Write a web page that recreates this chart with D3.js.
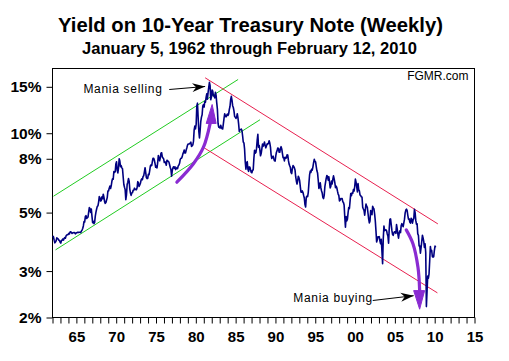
<!DOCTYPE html>
<html><head><meta charset="utf-8">
<script src="https://cdn.jsdelivr.net/npm/d3@7"></script>
<style>
body{margin:0;background:#fff;}
svg{display:block;font-family:"Liberation Sans",Arial,Helvetica,sans-serif;}
</style></head><body>
<svg id="chart" width="509" height="361"></svg>
<script>
// ---------------- DATA ----------------
const title = "Yield on 10-Year Treasury Note (Weekly)";
const subtitle = "January 5, 1962 through February 12, 2010";
const sourceLabel = "FGMR.com";
const startYear = 1962;           // first month = January 1962
const monthlyYield = [
 4.08,4.04,3.93,3.84,3.87,3.91,4.01,3.98,3.98,3.93,3.92,3.86,
 3.83,3.92,3.93,3.97,3.93,3.99,4.02,4.00,4.08,4.11,4.12,4.13,
 4.17,4.15,4.22,4.23,4.20,4.17,4.19,4.19,4.20,4.19,4.15,4.18,
 4.19,4.21,4.21,4.20,4.21,4.21,4.20,4.25,4.29,4.35,4.45,4.62,
 4.61,4.83,4.87,4.75,4.78,4.81,5.02,5.22,5.18,5.01,5.16,4.84,
 4.58,4.63,4.54,4.59,4.85,5.02,5.16,5.28,5.30,5.48,5.75,5.70,
 5.53,5.56,5.74,5.64,5.87,5.72,5.50,5.42,5.46,5.58,5.70,6.03,
 6.04,6.19,6.30,6.17,6.32,6.57,6.72,6.69,7.16,7.10,7.14,7.65,
 7.79,7.24,7.07,7.39,8.00,7.84,7.46,7.53,7.39,7.33,6.84,6.39,
 6.24,6.11,5.60,5.83,6.39,6.52,6.73,6.58,6.14,5.93,5.81,5.93,
 5.95,6.08,6.07,6.19,6.13,6.11,6.11,6.21,6.55,6.48,6.28,6.36,
 6.46,6.64,6.71,6.67,6.85,6.90,7.13,7.40,7.09,6.79,6.73,6.74,
 6.99,6.96,7.21,7.51,7.58,7.54,7.81,8.04,8.04,7.90,7.68,7.43,
 7.50,7.39,7.73,8.23,8.06,7.86,8.06,8.40,8.43,8.14,8.05,8.00,
 7.74,7.79,7.73,7.56,7.90,7.86,7.83,7.77,7.59,7.41,7.29,6.87,
 7.21,7.39,7.46,7.37,7.46,7.28,7.33,7.40,7.34,7.52,7.58,7.69,
 7.96,8.03,8.04,8.15,8.35,8.46,8.64,8.41,8.42,8.64,8.81,9.01,
 9.10,9.10,9.12,9.18,9.25,8.91,8.95,9.03,9.33,10.30,10.65,10.39,
 10.80,12.70,13.00,11.47,10.18,9.60,10.25,11.10,11.51,11.75,12.68,12.84,
 12.57,13.19,13.12,13.68,14.10,13.47,14.28,14.94,15.60,15.15,13.39,13.72,
 14.59,14.43,13.86,13.87,13.62,14.30,13.95,13.06,12.34,10.91,10.55,10.54,
 10.46,10.72,10.51,10.40,10.38,10.85,11.38,11.85,11.65,11.54,11.69,11.83,
 11.67,11.84,12.32,12.63,13.41,13.80,13.36,12.72,12.52,12.16,11.57,11.50,
 11.38,11.51,11.86,11.43,10.85,10.16,10.31,10.33,10.37,10.24,9.78,9.26,
 9.19,8.70,7.78,7.30,7.71,7.80,7.30,7.17,7.45,7.43,7.25,7.11,
 7.08,7.25,7.25,8.02,8.61,8.40,8.45,8.76,9.42,9.90,8.86,8.99,
 8.67,8.21,8.37,8.72,9.09,8.92,9.06,9.26,8.98,8.80,8.96,9.11,
 9.09,9.17,9.36,9.18,8.86,8.28,8.02,8.11,8.19,8.01,7.87,7.84,
 8.21,8.47,8.59,8.79,8.76,8.48,8.47,8.75,8.89,8.72,8.39,8.08,
 8.09,7.85,8.11,8.04,8.07,8.28,8.27,7.90,7.65,7.53,7.42,7.09,
 7.03,7.34,7.54,7.48,7.39,7.26,6.84,6.59,6.42,6.59,6.87,6.77,
 6.60,6.26,5.98,5.97,6.04,5.96,5.81,5.68,5.36,5.25,5.72,5.77,
 5.75,5.97,6.48,6.97,7.18,7.10,7.30,7.24,7.46,7.74,7.96,7.81,
 7.78,7.47,7.20,7.06,6.63,6.17,6.28,6.49,6.20,6.04,5.93,5.71,
 5.65,5.81,6.27,6.51,6.74,6.91,6.87,6.64,6.83,6.53,6.20,6.30,
 6.58,6.42,6.69,6.89,6.71,6.49,6.22,6.30,6.21,6.03,5.88,5.81,
 5.54,5.57,5.65,5.64,5.65,5.50,5.46,5.34,4.81,4.40,4.83,4.65,
 4.72,5.00,5.23,5.18,5.54,5.90,5.79,5.94,5.92,6.11,6.03,6.28,
 6.70,6.52,6.26,5.99,6.44,6.10,6.05,5.83,5.80,5.74,5.72,5.24,
 5.16,5.10,4.89,5.14,5.39,5.28,5.24,4.97,4.73,4.57,4.65,5.09,
 5.04,4.91,5.28,5.21,5.16,4.93,4.65,4.26,3.87,3.94,4.05,4.03,
 4.05,3.90,3.81,3.96,3.57,3.20,3.98,4.45,4.27,4.29,4.30,4.27,
 4.15,4.08,3.83,4.35,4.72,4.73,4.50,4.28,4.13,4.10,4.19,4.23,
 4.22,4.17,4.50,4.34,4.14,4.00,4.18,4.26,4.20,4.46,4.54,4.47,
 4.42,4.57,4.72,4.99,5.11,5.15,5.09,4.88,4.72,4.73,4.60,4.56,
 4.76,4.72,4.56,4.69,4.75,5.15,5.00,4.67,4.52,4.53,4.15,4.10,
 3.74,3.74,3.51,3.68,3.88,4.10,4.01,3.89,3.69,3.81,3.53,2.20,
 2.52,2.87,2.82,2.93,3.29,3.72,3.56,3.59,3.40,3.39,3.40,3.59,
 3.73,3.69
];
const yTicks = [2, 3, 5, 8, 10, 15];
const yTickLabels = ["2%", "3%", "5%", "8%", "10%", "15%"];
const xMinorYears = d3.range(1962, 2016);
const xMajorYears = [1965,1970,1975,1980,1985,1990,1995,2000,2005,2010,2015];
const xTickLabels = ["65","70","75","80","85","90","95","00","05","10","15"];
// trend channels: [year, yield] end points
const greenChannel = [
  [[1962.13, 5.77], [1985.31, 15.99]],
  [[1962.38, 3.61], [1988.06, 11.25]]
];
const redChannel = [
  [[1981.17, 16.23], [2010.40, 4.53]],
  [[1981.05, 8.80], [2010.34, 2.48]]
];
// annotations in [year, yield]
const sellLabel = {text: "Mania selling", at: [1965.88, 14.27]};
const sellArrow = [[1976.66, 14.65], [1981.17, 15.04]];
const buyLabel = {text: "Mania buying", at: [1992.23, 2.28]};
const buyArrow = [[2002.22, 2.32], [2007.36, 2.42]];
const purpleUpCurve = [[1977.62, 6.52], [1979.70, 7.66], [1980.96, 8.85], [1981.80, 10.9]];
const purpleUpHead = [[1981.30, 10.89], [1982.05, 12.85], [1982.55, 10.89]];
const purpleDownCurve = [[2006.43, 4.30], [2007.27, 3.81], [2007.90, 3.10], [2008.11, 2.54]];
const purpleDownHead = [[2007.36, 2.53], [2008.11, 2.15], [2008.74, 2.53]];

// ---------------- CHART ----------------
const svg = d3.select("#chart");
const pLeft = 52.5, pRight = 474.5, pTop = 68.5, pBottom = 317.5;

const x = d3.scaleLinear().domain([1962, 2015]).range([pLeft, pRight]);
const y = d3.scaleLog().domain([2, 17.6]).range([pBottom, pTop]);

const navy = "#000080", green = "#22cc22", red = "#e8204f", purple = "#8a2bd2";

svg.append("rect").attr("width", 509).attr("height", 361).attr("fill", "#fff");

function fitText(sel, target) {
  const w = sel.node().getComputedTextLength();
  const fs = parseFloat(sel.attr("font-size"));
  if (w > 0) sel.attr("font-size", (fs * target / w).toFixed(2));
}
const t1 = svg.append("text").attr("x", 250.5).attr("y", 32).attr("text-anchor", "middle")
  .attr("font-weight", "bold").attr("font-size", 20).attr("fill", "#000").text(title);
fitText(t1, 385);
const t2 = svg.append("text").attr("x", 249.5).attr("y", 54).attr("text-anchor", "middle")
  .attr("font-weight", "bold").attr("font-size", 16).attr("fill", "#000").text(subtitle);
fitText(t2, 335);

// axes
const yAxis = d3.axisLeft(y).tickValues(yTicks).tickFormat((d, i) => yTickLabels[i])
  .tickSize(6).tickSizeOuter(0).tickPadding(5);
const gy = svg.append("g").attr("transform", `translate(${pLeft},0)`).call(yAxis);
gy.select(".domain").remove();
gy.selectAll("text").attr("font-size", 15.5).attr("font-weight", "bold")
  .attr("font-family", "'Liberation Sans',Arial,sans-serif").attr("fill", "#000");
gy.selectAll("line").attr("stroke", "#000");

const xAxis = d3.axisBottom(x).tickValues(xMinorYears)
  .tickFormat(d => { const i = xMajorYears.indexOf(d); return i >= 0 ? xTickLabels[i] : ""; })
  .tickSize(6).tickSizeOuter(0).tickPadding(8);
const gx = svg.append("g").attr("transform", `translate(0,${pBottom})`).call(xAxis);
gx.select(".domain").remove();
gx.selectAll("text").attr("font-size", 15).attr("font-weight", "bold")
  .attr("font-family", "'Liberation Sans',Arial,sans-serif").attr("fill", "#000");
gx.selectAll("line").attr("stroke", "#000");

// plot frame
svg.append("rect").attr("x", pLeft).attr("y", pTop).attr("width", pRight - pLeft).attr("height", pBottom - pTop)
  .attr("fill", "none").attr("stroke", "#000").attr("stroke-width", 1);

// channels
const seg = d3.line().x(d => x(d[0])).y(d => y(d[1]));
svg.append("g").selectAll("path").data(greenChannel).join("path")
  .attr("d", seg).attr("stroke", green).attr("stroke-width", 1).attr("fill", "none");
svg.append("g").selectAll("path").data(redChannel).join("path")
  .attr("d", seg).attr("stroke", red).attr("stroke-width", 1).attr("fill", "none");

// series
const series = monthlyYield.map((v, i) => [startYear + (i + 0.5) / 12, v]);
svg.append("path").datum(series)
  .attr("d", d3.line().x(d => x(d[0])).y(d => y(d[1])))
  .attr("fill", "none").attr("stroke", navy).attr("stroke-width", 1.6).attr("stroke-linejoin", "round");

// purple arrows
const curve = d3.line().x(d => x(d[0])).y(d => y(d[1])).curve(d3.curveCatmullRom);
[purpleUpCurve, purpleDownCurve].forEach(c => {
  svg.append("path").attr("d", curve(c)).attr("fill", "none").attr("stroke", purple)
    .attr("stroke-width", 3.2).attr("stroke-linecap", "round");
});
[purpleUpHead, purpleDownHead].forEach(h => {
  svg.append("path").attr("d", seg(h) + "Z").attr("fill", purple).attr("stroke", purple).attr("stroke-width", 1);
});

// black arrows
svg.append("defs").append("marker").attr("id", "ah").attr("markerUnits", "userSpaceOnUse")
  .attr("markerWidth", 14).attr("markerHeight", 10).attr("refX", 13).attr("refY", 5)
  .attr("orient", "auto").append("path").attr("d", "M0,0.5 L13,5 L0,9.5 L4,5 Z").attr("fill", "#000");
[sellArrow, buyArrow].forEach(a => {
  svg.append("path").attr("d", seg(a)).attr("stroke", "#000").attr("stroke-width", 1)
    .attr("fill", "none").attr("marker-end", "url(#ah)");
});

// labels
[sellLabel, buyLabel].forEach(l => {
  svg.append("text").attr("x", x(l.at[0])).attr("y", y(l.at[1])).attr("font-size", 12)
    .attr("letter-spacing", 0.7).attr("fill", "#000").text(l.text);
});
svg.append("text").attr("x", pRight - 6).attr("y", pTop + 11).attr("text-anchor", "end")
  .attr("font-size", 12).attr("fill", "#000").text(sourceLabel);
</script>
</body></html>
